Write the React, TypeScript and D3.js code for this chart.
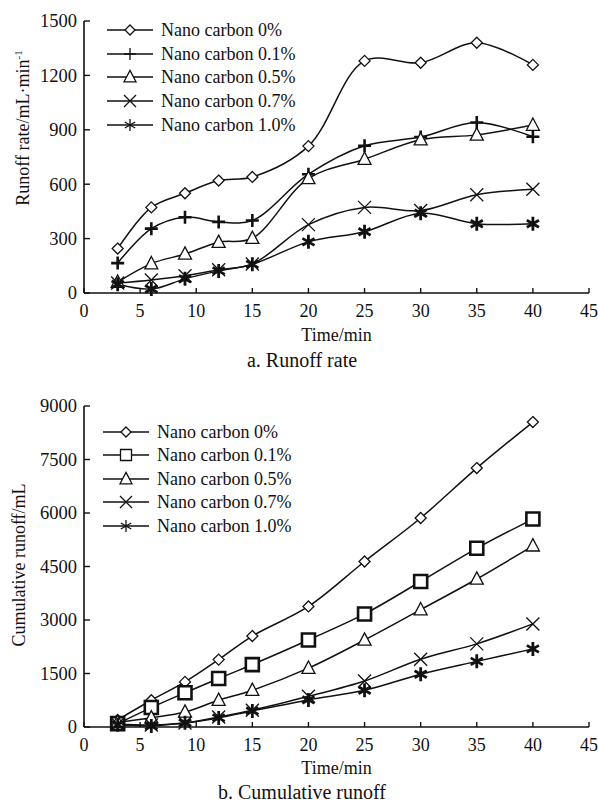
import React from "react";
import * as d3 from "d3";

const times = [3, 6, 9, 12, 15, 20, 25, 30, 35, 40];
const seriesNames = ["Nano carbon 0%", "Nano carbon 0.1%", "Nano carbon 0.5%", "Nano carbon 0.7%", "Nano carbon 1.0%"];

const rate0 = [245, 472, 550, 620, 640, 810, 1280, 1270, 1380, 1258];
const rate01 = [165, 355, 418, 392, 400, 655, 812, 860, 940, 862];
const rate05 = [60, 162, 215, 280, 302, 632, 738, 845, 872, 926];
const rate07 = [55, 72, 95, 128, 160, 377, 472, 455, 542, 572];
const rate10 = [48, 22, 78, 122, 158, 282, 338, 440, 382, 382];

const cum0 = [200, 750, 1265, 1890, 2550, 3380, 4640, 5860, 7260, 8550];
const cum01 = [95, 545, 960, 1360, 1750, 2440, 3170, 4080, 5010, 5830];
const cum05 = [130, 260, 420, 750, 1030, 1650, 2440, 3290, 4150, 5080];
const cum07 = [75, 55, 110, 280, 470, 860, 1290, 1900, 2330, 2890];
const cum10 = [60, 30, 120, 255, 450, 760, 1030, 1480, 1840, 2190];

const xTicks = [0, 5, 10, 15, 20, 25, 30, 35, 40, 45];
const rateTicks = [0, 300, 600, 900, 1200, 1500];
const cumTicks = [0, 1500, 3000, 4500, 6000, 7500, 9000];

const topMarkers = ["diamond", "plus", "triangle", "x", "asterisk"];
const bottomMarkers = ["diamond", "square", "triangle", "x", "asterisk"];

const FONT = "'Liberation Serif', 'Times New Roman', serif";

function markerPath(type: string, s: number): string {
  const h = s / 2;
  switch (type) {
    case "diamond":
      return `M0,${-h}L${h},0L0,${h}L${-h},0Z`;
    case "square":
      return `M${-h},${-h}H${h}V${h}H${-h}Z`;
    case "triangle":
      return `M0,${-s * 0.55}L${h},${s * 0.4}L${-h},${s * 0.4}Z`;
    case "plus":
      return `M${-h},0H${h}M0,${-h}V${h}`;
    case "x":
      return `M${-h},${-h}L${h},${h}M${-h},${h}L${h},${-h}`;
    case "asterisk": {
      const c = Math.cos(Math.PI / 6) * h;
      const sn = Math.sin(Math.PI / 6) * h;
      return `M0,${-h}V${h}M${-c},${-sn}L${c},${sn}M${-c},${sn}L${c},${-sn}`;
    }
  }
  return "";
}

const closedTypes = new Set(["diamond", "square", "triangle"]);

function Marker({ type, x, y, s, sw }: { type: string; x: number; y: number; s: number; sw: number }) {
  return (
    <path
      d={markerPath(type, s)}
      transform={`translate(${x},${y})`}
      fill={closedTypes.has(type) ? "#fff" : "none"}
      stroke="#111"
      strokeWidth={sw}
      strokeLinejoin="miter"
    />
  );
}

interface PanelProps {
  series: number[][];
  markers: string[];
  yTicks: number[];
  yMax: number;
  yTop: number;
  yBottom: number;
  yTitle: React.ReactNode;
  yTitleX: number;
  yTitleY: number;
  caption: string;
  captionOffset: number;
  titleOffset: number;
  legendRows: number[];
  legendX0: number;
  markerSizes: number[];
  markerWidths: number[];
  legendSizes: number[];
}

function Panel(p: PanelProps) {
  const x = d3.scaleLinear().domain([0, 45]).range([84, 589]);
  const y = d3.scaleLinear().domain([0, p.yMax]).range([p.yBottom, p.yTop]);
  const line = d3
    .line<number>()
    .x((_, i) => x(times[i]))
    .y((d) => y(d))
    .curve(d3.curveCatmullRom.alpha(0.5));
  return (
    <g fontFamily={FONT} fill="#111">
      {p.series.map((s, k) => (
        <path key={"l" + k} d={line(s) || ""} fill="none" stroke="#111" strokeWidth={1.5} />
      ))}
      {p.series.map((s, k) =>
        s.map((v, i) => (
          <Marker key={`m${k}-${i}`} type={p.markers[k]} x={x(times[i])} y={y(v)} s={p.markerSizes[k]} sw={p.markerWidths[k]} />
        ))
      )}
      <line x1={x(0)} x2={x(45)} y1={y(0)} y2={y(0)} stroke="#111" strokeWidth={1.6} />
      <line x1={x(0)} x2={x(0)} y1={y(0)} y2={y(p.yMax)} stroke="#111" strokeWidth={1.6} />
      {xTicks.map((t) => (
        <g key={"xt" + t}>
          <line x1={x(t)} x2={x(t)} y1={y(0)} y2={y(0) - 5} stroke="#111" strokeWidth={1.4} />
          <text x={x(t)} y={y(0) + 24} textAnchor="middle" fontSize={18}>
            {t}
          </text>
        </g>
      ))}
      {p.yTicks.map((t) => (
        <g key={"yt" + t}>
          <line x1={x(0)} x2={x(0) + 6} y1={y(t)} y2={y(t)} stroke="#111" strokeWidth={1.4} />
          <text x={x(0) - 7} y={y(t)} dy="0.35em" textAnchor="end" fontSize={18.5}>
            {t}
          </text>
        </g>
      ))}
      <text x={(x(0) + x(45)) / 2} y={y(0) + p.titleOffset} textAnchor="middle" fontSize={18}>
        Time/min
      </text>
      <text x={302} y={y(0) + p.captionOffset} textAnchor="middle" fontSize={20}>
        {p.caption}
      </text>
      <text
        transform={`translate(${p.yTitleX},${p.yTitleY}) rotate(-90)`}
        textAnchor="middle"
        dy="0.35em"
        fontSize={18}
      >
        {p.yTitle}
      </text>
      {seriesNames.map((name, k) => (
        <g key={"lg" + k}>
          <line x1={p.legendX0} x2={p.legendX0 + 46} y1={p.legendRows[k]} y2={p.legendRows[k]} stroke="#111" strokeWidth={1.5} />
          <Marker type={p.markers[k]} x={p.legendX0 + 23} y={p.legendRows[k]} s={p.legendSizes[k]} sw={1.3} />
          <text x={p.legendX0 + 54} y={p.legendRows[k]} dy="0.35em" fontSize={18}>
            {name}
          </text>
        </g>
      ))}
    </g>
  );
}

export default function App() {
  return (
    <svg width={598} height={803} style={{ position: "absolute", left: 0, top: 0, background: "#fff" }}>
      <rect width={598} height={803} fill="#fff" />
      <Panel
        series={[rate0, rate01, rate05, rate07, rate10]}
        markers={topMarkers}
        yTicks={rateTicks}
        yMax={1500}
        yTop={21}
        yBottom={293}
        yTitle={
          <>
            Runoff rate/mL·min
            <tspan dy="-7" fontSize={11}>-1</tspan>
          </>
        }
        yTitleX={23}
        yTitleY={128}
        caption="a. Runoff rate"
        captionOffset={74}
        titleOffset={48}
        legendRows={[30, 54, 77, 101, 125]}
        legendX0={107}
        markerSizes={[11, 13, 13, 13, 14]}
        markerWidths={[1.3, 2.6, 1.3, 1.3, 2.8]}
        legendSizes={[10, 12, 12, 12, 12]}
      />
      <Panel
        series={[cum0, cum01, cum05, cum07, cum10]}
        markers={bottomMarkers}
        yTicks={cumTicks}
        yMax={9000}
        yTop={406}
        yBottom={727}
        yTitle="Cumulative runoff/mL"
        yTitleX={19}
        yTitleY={565}
        caption="b. Cumulative runoff"
        captionOffset={72}
        titleOffset={47}
        legendRows={[432, 455, 479, 502, 526]}
        legendX0={103}
        markerSizes={[11, 13, 13, 13, 14]}
        markerWidths={[1.3, 2.6, 1.3, 1.3, 2.8]}
        legendSizes={[10, 11, 12, 12, 12]}
      />
    </svg>
  );
}
